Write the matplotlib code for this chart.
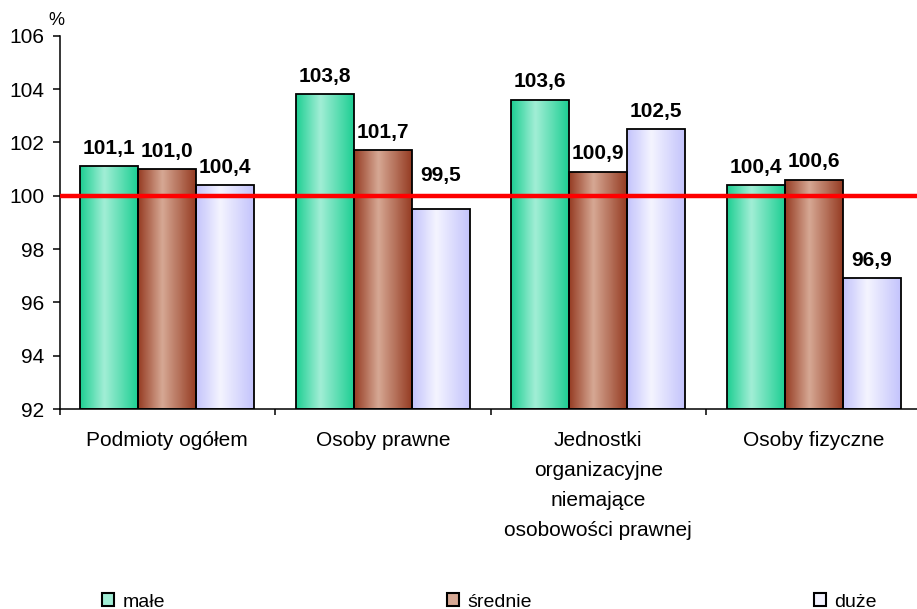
import matplotlib
import numpy as np

matplotlib.use("Agg")
import matplotlib.pyplot as plt
from matplotlib.colors import LinearSegmentedColormap
from matplotlib.patches import Patch

plt.rcParams["font.family"] = ["Liberation Sans", "DejaVu Sans"]

categories = [
    "Podmioty ogółem",
    "Osoby prawne",
    "Jednostki\norganizacyjne\nniemające\nosobowości prawnej",
    "Osoby fizyczne",
]
series_names = ["małe", "średnie", "duże"]
male = [101.1, 103.8, 103.6, 100.4]
srednie = [101.0, 101.7, 100.9, 100.6]
duze = [100.4, 99.5, 102.5, 96.9]

series_values = [male, srednie, duze]
# (edge colour, centre colour) for the horizontal gradient
series_colors = [
    ("#1fcf93", "#a2eed6"),
    ("#963d24", "#d6a894"),
    ("#c4c4fc", "#f4f4ff"),
]

y_min, y_max = 92, 106
reference_level = 100
bar_width = 0.269

fig = plt.figure(figsize=(9.17, 6.09), dpi=100)
ax = fig.add_axes([0.0649, 0.3284, 0.940, 0.613])

x = np.arange(len(categories))
gradient = np.linspace(0, 1, 64).reshape(1, -1)

for index, (values, (edge, centre)) in enumerate(zip(series_values, series_colors)):
    cmap = LinearSegmentedColormap.from_list(
        f"grad{index}", [(0, edge), (0.42, centre), (1, edge)]
    )
    offset = (index - 1) * bar_width
    bars = ax.bar(
        x + offset, np.array(values) - y_min, bar_width, bottom=y_min,
        facecolor="none", edgecolor="black", linewidth=1.3, zorder=3,
    )
    for bar, value in zip(bars, values):
        x0 = bar.get_x()
        image = ax.imshow(
            gradient, cmap=cmap, aspect="auto",
            extent=(x0, x0 + bar_width, y_min, value), zorder=2,
        )
        image.set_clip_path(bar)
        # labels of bars just under the red line sit above it
        label_y = value
        if reference_level - 1 < value < reference_level:
            label_y = reference_level + 0.1
        ax.annotate(
            f"{value:.1f}".replace(".", ","), (x0 + bar_width / 2, label_y),
            xytext=(0, 6), textcoords="offset points",
            ha="center", va="bottom", fontsize=15, fontweight="bold", zorder=5,
        )

ax.axhline(reference_level, color="#ff0000", linewidth=3.2, zorder=4)

ax.set_xlim(-0.5, len(categories) - 0.5)
ax.set_ylim(y_min, y_max)
ax.set_yticks(np.arange(y_min, y_max + 1, 2))
ax.tick_params(axis="y", labelsize=15, length=5, pad=6, width=1.1, direction="out")
ax.set_xticks(x)
ax.set_xticklabels(categories, fontsize=15, linespacing=1.72)
ax.tick_params(axis="x", length=0, pad=16)
ax.set_xticks(np.arange(-0.5, len(categories) + 0.5, 1), minor=True)
ax.tick_params(axis="x", which="minor", length=4.5, width=1.1, direction="out")

for side in ("top", "right"):
    ax.spines[side].set_visible(False)
ax.spines["left"].set_linewidth(1.1)
ax.spines["bottom"].set_linewidth(1.1)

fig.text(0.062, 0.967, "%", fontsize=13, ha="center", va="center")

handles = [
    Patch(facecolor=centre, edgecolor="black", linewidth=1.5)
    for _, centre in series_colors
]
fig.legend(
    handles, series_names, loc="center left", ncol=3, mode="expand",
    bbox_to_anchor=(0.111, 0.0115, 0.845, 0.0), frameon=False, fontsize=14,
    handlelength=0.65, handleheight=0.65, handletextpad=0.4,
    borderpad=0, borderaxespad=0,
)

fig.savefig("out.png", dpi=100)
